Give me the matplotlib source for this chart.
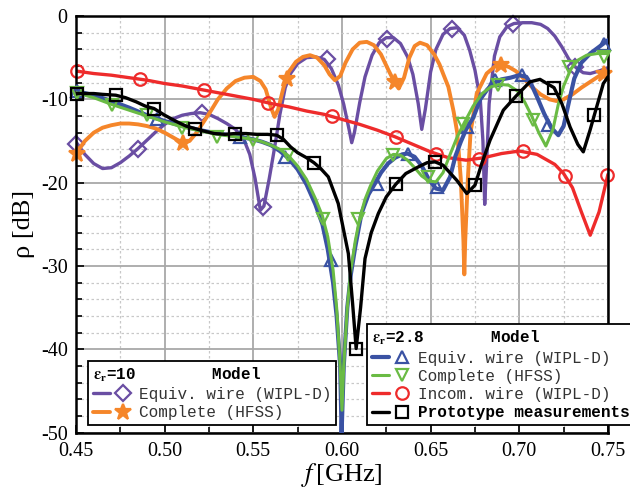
import matplotlib
matplotlib.use("Agg")
import matplotlib.pyplot as plt
from matplotlib.legend_handler import HandlerTuple
from matplotlib.ticker import MultipleLocator, FormatStrFormatter

plt.rcParams['font.family'] = ['Liberation Serif', 'DejaVu Serif']
plt.rcParams['mathtext.fontset'] = 'stix'
plt.rcParams['axes.unicode_minus'] = False

# ---- eps_r = 10, equivalent wire (WIPL-D) ----
f_wire10 = [0.450, 0.455, 0.460, 0.465, 0.470, 0.475, 0.480, 0.485, 0.490, 0.495,
            0.500, 0.505, 0.510, 0.515, 0.520, 0.525, 0.530, 0.535, 0.540, 0.545,
            0.548, 0.551, 0.554, 0.556, 0.559, 0.562, 0.565, 0.568, 0.571, 0.575,
            0.580, 0.585, 0.590, 0.594, 0.598, 0.601, 0.604, 0.6055, 0.607, 0.610,
            0.613, 0.617, 0.621, 0.625, 0.629, 0.633, 0.637, 0.640, 0.643, 0.645,
            0.647, 0.650, 0.653, 0.657, 0.661, 0.665, 0.669, 0.672, 0.675, 0.678,
            0.6795, 0.6805, 0.6815, 0.683, 0.686, 0.689, 0.693, 0.697, 0.702, 0.707,
            0.712, 0.716, 0.720, 0.724, 0.728, 0.732, 0.736, 0.740, 0.745, 0.750]
rho_wire10 = [-15.1, -16.6, -17.7, -18.3, -18.2, -17.6, -16.8, -15.9, -14.9, -13.9,
              -13.0, -12.3, -11.9, -11.7, -11.6, -11.8, -12.3, -12.9, -13.6, -15.0,
              -16.6, -19.5, -23.3, -22.8, -19.5, -15.8, -11.8, -8.6, -6.9, -5.7,
              -5.0, -4.9, -5.2, -6.3, -8.3, -10.6, -13.6, -15.2, -14.0, -10.4,
              -7.3, -4.7, -3.2, -2.6, -2.6, -3.3, -4.9, -7.0, -10.5, -13.6,
              -11.2, -6.7, -4.0, -2.2, -1.5, -1.4, -2.3, -4.1, -6.5, -10.0,
              -15.0, -22.6, -18.0, -10.5, -4.8, -2.5, -1.3, -0.9, -0.8, -0.8,
              -1.0, -1.5, -2.4, -3.7, -5.2, -6.2, -6.8, -6.9, -6.6, -6.2]
mf_wire10 = [0.450, 0.4851, 0.5209, 0.5556, 0.5914, 0.6252, 0.6619, 0.6966, 0.7314]
mrho_wire10 = [-15.3, -15.9, -11.6, -22.9, -5.1, -2.7, -1.5, -0.9, -6.1]

# ---- eps_r = 10, complete model (HFSS) ----
f_hfss10 = [0.450, 0.455, 0.460, 0.465, 0.470, 0.475, 0.480, 0.485, 0.490, 0.495,
            0.500, 0.505, 0.510, 0.514, 0.518, 0.522, 0.526, 0.530, 0.535, 0.540,
            0.545, 0.550, 0.554, 0.557, 0.560, 0.562, 0.564, 0.567, 0.570, 0.574,
            0.578, 0.582, 0.586, 0.590, 0.593, 0.596, 0.599, 0.602, 0.606, 0.610,
            0.614, 0.618, 0.622, 0.626, 0.630, 0.632, 0.635, 0.638, 0.641, 0.644,
            0.648, 0.652, 0.655, 0.657, 0.660, 0.663, 0.665, 0.667, 0.6685, 0.669,
            0.6695, 0.671, 0.6725, 0.676, 0.6816, 0.686, 0.690, 0.694, 0.698, 0.702,
            0.707, 0.712, 0.717, 0.721, 0.725, 0.730, 0.735, 0.740, 0.745, 0.750]
rho_hfss10 = [-16.5, -15.0, -14.0, -13.4, -13.1, -12.9, -12.9, -13.0, -13.2, -13.5,
              -14.0, -14.6, -15.2, -15.0, -14.0, -12.7, -11.4, -10.0, -8.7, -7.8,
              -7.4, -7.3, -7.8, -8.8, -11.0, -12.1, -11.2, -8.6, -6.7, -5.5,
              -4.9, -4.7, -5.0, -5.9, -7.0, -7.7, -7.2, -5.6, -4.0, -3.2,
              -3.1, -3.5, -4.6, -6.4, -8.1, -8.7, -7.4, -5.0, -3.6, -3.2,
              -3.5, -4.6, -5.8, -6.9, -8.5, -11.5, -14.0, -19.5, -27.0, -31.0,
              -27.0, -19.5, -14.0, -9.3, -6.9, -6.1, -5.9, -6.1, -6.6, -7.4,
              -8.5, -9.4, -10.0, -10.2, -10.0, -9.4, -8.6, -7.9, -7.2, -6.7]
mf_hfss10 = [0.4507, 0.5102, 0.5688, 0.6299, 0.6895, 0.748]
mrho_hfss10 = [-16.5, -15.2, -7.5, -7.9, -5.9, -6.9]

# ---- eps_r = 2.8, equivalent wire (WIPL-D) ----
f_wire28 = [0.450, 0.460, 0.470, 0.480, 0.490, 0.500, 0.510, 0.520, 0.530, 0.540,
            0.550, 0.555, 0.560, 0.565, 0.570, 0.575, 0.580, 0.585, 0.589, 0.592,
            0.595, 0.597, 0.599, 0.5998, 0.601, 0.603, 0.605, 0.6075, 0.611, 0.615,
            0.6186, 0.622, 0.626, 0.630, 0.634, 0.637, 0.641, 0.645, 0.649, 0.653,
            0.657, 0.661, 0.664, 0.667, 0.670, 0.674, 0.678, 0.682, 0.686, 0.690,
            0.695, 0.700, 0.704, 0.707, 0.710, 0.714, 0.718, 0.722, 0.725, 0.728,
            0.731, 0.735, 0.740, 0.745, 0.750]
rho_wire28 = [-9.0, -9.5, -10.2, -11.0, -11.9, -12.6, -13.2, -13.7, -14.1, -14.4,
              -14.8, -15.1, -15.5, -16.2, -17.1, -18.4, -20.2, -22.6, -25.0, -28.0,
              -32.0, -36.0, -42.0, -50.0, -42.0, -35.0, -31.0, -27.7, -23.7, -21.4,
              -20.1, -18.8, -17.7, -17.0, -16.6, -16.5, -16.9, -18.0, -19.6, -20.7,
              -20.9, -19.3, -16.8, -15.1, -13.6, -12.2, -10.0, -8.8, -8.0, -7.6,
              -7.4, -7.1, -7.3, -8.3, -9.7, -11.7, -13.4, -14.3, -13.2, -10.3,
              -7.5, -5.6, -4.5, -3.7, -2.9]
mf_wire28 = [0.4505, 0.4955, 0.5425, 0.5679, 0.594, 0.6196, 0.6374, 0.6534, 0.6704,
             0.6863, 0.7014, 0.7164, 0.748]
mrho_wire28 = [-9.0, -12.3, -14.5, -16.9, -29.3, -20.1, -16.5, -20.5, -13.3,
               -7.7, -7.1, -13.1, -3.3]

# ---- eps_r = 2.8, complete model (HFSS) ----
f_hfss28 = [0.450, 0.460, 0.470, 0.480, 0.490, 0.500, 0.510, 0.520, 0.530, 0.540,
            0.550, 0.555, 0.560, 0.565, 0.570, 0.575, 0.580, 0.585, 0.589, 0.592,
            0.595, 0.597, 0.599, 0.600, 0.601, 0.603, 0.605, 0.6075, 0.610, 0.613,
            0.616, 0.620, 0.625, 0.629, 0.633, 0.637, 0.641, 0.645, 0.649, 0.653,
            0.657, 0.661, 0.665, 0.669, 0.674, 0.679, 0.684, 0.689, 0.694, 0.699,
            0.703, 0.707, 0.711, 0.715, 0.719, 0.722, 0.725, 0.729, 0.733, 0.738,
            0.744, 0.750]
rho_hfss28 = [-9.2, -9.8, -10.6, -11.3, -12.0, -12.7, -13.3, -13.8, -14.2, -14.5,
              -14.8, -15.1, -15.5, -16.0, -16.8, -18.0, -19.6, -21.9, -24.0, -26.5,
              -30.5, -35.0, -42.0, -47.3, -42.0, -35.0, -30.5, -27.0, -24.3, -22.0,
              -20.4, -18.6, -17.1, -16.6, -16.7, -17.3, -18.2, -19.2, -19.8, -19.9,
              -18.8, -16.6, -14.5, -12.8, -10.8, -9.3, -8.5, -8.2, -8.3, -9.0,
              -10.3, -12.0, -14.0, -15.6, -13.6, -10.6, -8.4, -6.4, -5.3, -4.7,
              -4.5, -4.5]
mf_hfss28 = [0.4506, 0.4704, 0.4902, 0.510, 0.5298, 0.5496, 0.5694, 0.5892, 0.609,
             0.6288, 0.6486, 0.6684, 0.6882, 0.708, 0.7278, 0.7476]
mrho_hfss28 = [-9.2, -10.7, -11.9, -13.4, -14.5, -14.9, -16.7, -24.3, -24.3,
               -16.7, -19.3, -12.9, -8.3, -12.5, -6.1, -4.9]

# ---- eps_r = 2.8, incomplete wire (WIPL-D) ----
f_incom28 = [0.450, 0.460, 0.470, 0.480, 0.490, 0.500, 0.510, 0.520, 0.530, 0.540,
             0.550, 0.560, 0.570, 0.580, 0.590, 0.600, 0.610, 0.620, 0.630, 0.640,
             0.650, 0.660, 0.670, 0.680, 0.690, 0.700, 0.710, 0.720, 0.725, 0.730,
             0.735, 0.740, 0.745, 0.750]
rho_incom28 = [-6.6, -6.9, -7.1, -7.4, -7.7, -8.1, -8.4, -8.8, -9.2, -9.6,
               -10.0, -10.5, -10.9, -11.4, -11.8, -12.4, -13.0, -13.7, -14.5, -15.4,
               -16.3, -17.0, -17.3, -17.0, -16.5, -16.2, -16.6, -17.8, -18.9, -20.6,
               -23.5, -26.3, -23.5, -19.0]
mf_incom28 = [0.4507, 0.4861, 0.5222, 0.5585, 0.5942, 0.6303, 0.653, 0.6773, 0.7019,
              0.7258, 0.7493]
mrho_incom28 = [-6.6, -7.6, -8.9, -10.4, -12.0, -14.5, -16.6, -17.2, -16.2, -19.2, -19.1]

# ---- prototype measurements ----
f_meas = [0.450, 0.455, 0.460, 0.465, 0.4724, 0.478, 0.484, 0.489, 0.494, 0.500,
          0.507, 0.512, 0.517, 0.522, 0.528, 0.534, 0.5397, 0.546, 0.552, 0.558,
          0.5632, 0.567, 0.571, 0.575, 0.580, 0.5842, 0.588, 0.5923, 0.5979, 0.6017,
          0.6036, 0.606, 0.608, 0.6105, 0.613, 0.6165, 0.6205, 0.625, 0.6303, 0.636,
          0.6431, 0.648, 0.6525, 0.657, 0.6647, 0.6704, 0.675, 0.679, 0.6835, 0.691,
          0.6982, 0.706, 0.7117, 0.7196, 0.724, 0.7286, 0.733, 0.7361, 0.7399, 0.7423,
          0.7474, 0.750]
rho_meas = [-9.3, -9.3, -9.3, -9.4, -9.5, -9.8, -10.3, -10.8, -11.1, -11.9,
            -12.7, -13.2, -13.5, -13.8, -14.1, -14.2, -14.1, -14.1, -14.2, -14.2,
            -14.3, -14.8, -15.7, -16.4, -17.0, -17.6, -18.3, -19.3, -22.5, -26.5,
            -28.5, -34.5, -39.9, -35.0, -29.1, -26.0, -23.7, -21.7, -20.2, -18.9,
            -18.1, -17.6, -17.5, -17.9, -19.7, -21.3, -20.3, -17.6, -14.9, -11.3,
            -9.6, -7.9, -7.6, -8.6, -10.5, -13.3, -15.4, -16.3, -13.7, -11.9,
            -8.1, -7.3]
mf_meas = [0.4507, 0.4724, 0.494, 0.5171, 0.5397, 0.5632, 0.5842, 0.608, 0.6303,
           0.6525, 0.675, 0.6982, 0.7196, 0.7423]
mrho_meas = [-9.3, -9.5, -11.1, -13.5, -14.1, -14.3, -17.6, -39.9, -20.2,
             -17.5, -20.3, -9.6, -8.6, -11.9]

fig = plt.figure(figsize=(6.3, 4.9), dpi=100)
ax = fig.add_axes([0.1206, 0.1169, 0.8444, 0.8504])


def draw(f, rho, mf, mrho, color, marker, lw=2.4, ms=9, z=2):
    line, = ax.plot(f, rho, color=color, lw=lw, zorder=z, solid_capstyle='round')
    pts, = ax.plot(mf, mrho, ls='none', marker=marker, ms=ms, mfc='none',
                   mec=color, mew=1.6, zorder=z, clip_on=False)
    return (line, pts)


h_wire10 = draw(f_wire10, rho_wire10, mf_wire10, mrho_wire10, '#6a4ea3', 'D', ms=8)
h_hfss10 = draw(f_hfss10, rho_hfss10, mf_hfss10, mrho_hfss10, '#f5862a', '*', lw=2.8, ms=12)
h_incom28 = draw(f_incom28, rho_incom28, mf_incom28, mrho_incom28, '#ee2b2b', 'o')
h_wire28 = draw(f_wire28, rho_wire28, mf_wire28, mrho_wire28, '#3a52a3', '^', lw=3.0, z=3)
h_hfss28 = draw(f_hfss28, rho_hfss28, mf_hfss28, mrho_hfss28, '#6abb44', 'v', lw=2.2, z=4)
h_meas = draw(f_meas, rho_meas, mf_meas, mrho_meas, 'black', 's', lw=2.4, ms=8, z=5)
# stars are filled in the original
h_hfss10[1].set_markerfacecolor('#f5862a')

ax.set_xlim(0.45, 0.75)
ax.set_ylim(-50, 0)
ax.xaxis.set_major_locator(MultipleLocator(0.05))
ax.xaxis.set_minor_locator(MultipleLocator(0.025))
ax.yaxis.set_major_locator(MultipleLocator(10))
ax.yaxis.set_minor_locator(MultipleLocator(2))
ax.xaxis.set_major_formatter(FormatStrFormatter('%.2f'))
ax.yaxis.set_major_formatter(FormatStrFormatter('%d'))
ax.grid(which='major', color='#a8a8a8', lw=1.3, ls='-')
ax.grid(which='minor', color='#c8c8c8', lw=0.9, ls=(0, (2, 2)))
ax.set_axisbelow(True)
ax.tick_params(which='both', direction='in', top=False, right=False, width=1.2,
               labelsize=14.5)
ax.tick_params(which='major', length=6)
ax.tick_params(which='minor', length=4)
ax.tick_params(axis='x', pad=7)
ax.tick_params(axis='y', pad=6)
for s in ax.spines.values():
    s.set_linewidth(1.8)

ax.set_xlabel('$f\\,$[GHz]', fontsize=19, labelpad=0)
ax.set_ylabel('ρ [dB]', fontsize=19, labelpad=4)

mono = {'family': 'Liberation Mono', 'size': 11.5}
mono_b = {'family': 'Liberation Mono', 'size': 11.5, 'weight': 'bold'}
common = dict(loc='lower left', prop=mono, title_fontproperties=mono_b,
              alignment='left', fancybox=False, edgecolor='black', framealpha=1,
              handlelength=2.4, handletextpad=0.5, labelspacing=0.2,
              borderpad=0.3, borderaxespad=0, bbox_transform=fig.transFigure,
              handler_map={tuple: HandlerTuple(ndivide=None)})

leg1 = fig.legend([h_wire10, h_hfss10], ['Equiv. wire (WIPL-D)', 'Complete (HFSS)'],
                  bbox_to_anchor=(88 / 630, 1 - 425 / 490),
                  title='$\\mathbf{\\varepsilon_r}$=10        Model', **common)
leg2 = fig.legend([h_wire28, h_hfss28, h_incom28, h_meas],
                  ['Equiv. wire (WIPL-D)', 'Complete (HFSS)', 'Incom. wire (WIPL-D)',
                   'Prototype measurements'],
                  bbox_to_anchor=(367 / 630, 1 - 425 / 490),
                  title='$\\mathbf{\\varepsilon_r}$=2.8       Model', **common)
for leg in (leg1, leg2):
    leg.get_frame().set_linewidth(1.3)
    for t in leg.get_texts():
        t.set_color('#333333')
leg2.get_texts()[-1].set_color('black')
leg2.get_texts()[-1].set_fontweight('bold')

fig.savefig('out.png', dpi=100)
